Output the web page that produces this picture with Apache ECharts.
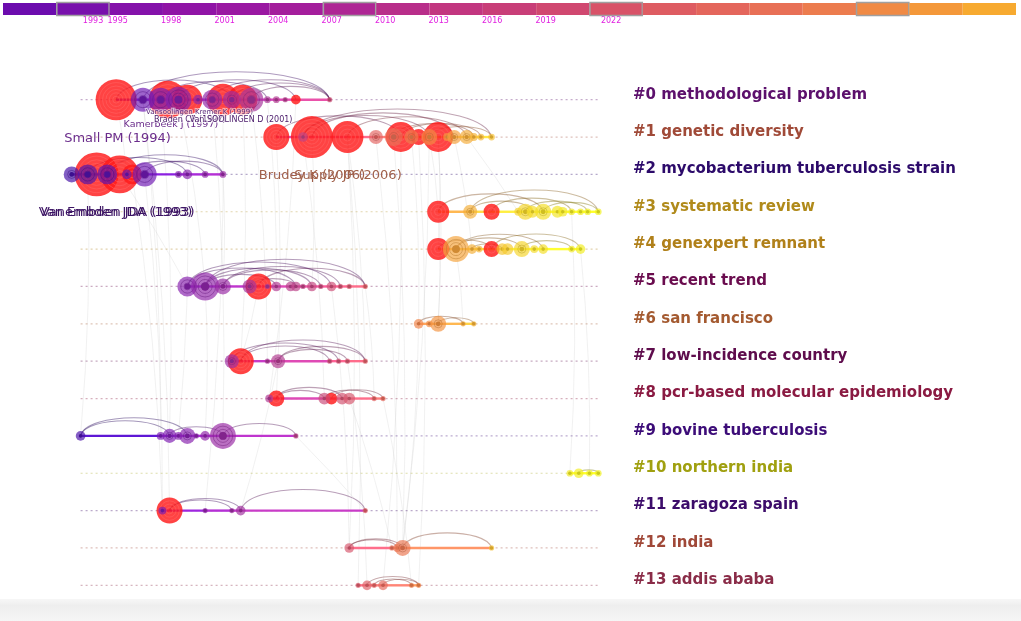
<!DOCTYPE html>
<html>
<head>
<meta charset="utf-8">
<script src="https://cdn.jsdelivr.net/npm/echarts@6/dist/echarts.min.js"></script>
<style>
html, body { margin: 0; padding: 0; background: #fff; }
#chart { width: 1021px; height: 621px; }
</style>
</head>
<body>
<div id="chart"></div>
<script>
// cluster names (timeline rows)
var clusterLabels = [
    '#0 methodological problem',
    '#1 genetic diversity',
    '#2 mycobacterium tuberculosis strain',
    '#3 systematic review',
    '#4 genexpert remnant',
    '#5 recent trend',
    '#6 san francisco',
    '#7 low-incidence country',
    '#8 pcr-based molecular epidemiology',
    '#9 bovine tuberculosis',
    '#10 northern india',
    '#11 zaragoza spain',
    '#12 india',
    '#13 addis ababa'
];
var labelColors = ['#5c106c', '#a04a38', '#2c0a6a', '#b08a1a', '#b0801a', '#6a0c4e', '#a45a30',
    '#5e0c4c', '#8a1a42', '#3c0c78', '#a0a010', '#3c0c6a', '#a04838', '#8a2c48'];

// nodes per cluster: [year, citation count, burst (1 = red)]
var nodes0 = [[1995.5, 120, 1], [1997.0, 39, 0], [1998.0, 39, 0], [1998.4, 102, 1], [1999.0, 46, 0], [1999.5, 62, 1],
    [2000.1, 5, 0], [2000.9, 26, 0], [2001.5, 71, 1], [2002.0, 21, 0], [2002.6, 62, 1], [2003.1, 39, 0],
    [2004.0, 2, 0], [2004.5, 2, 0], [2005.0, 1, 0], [2005.6, 5, 1], [2007.5, 1, 0]];
var nodes1 = [[2004.5, 46, 1], [2006.0, 5, 0], [2006.5, 126, 1], [2008.5, 71, 1], [2010.1, 12, 0], [2011.1, 21, 0],
    [2011.5, 62, 1], [2012.1, 12, 0], [2012.5, 16, 1], [2013.1, 16, 0], [2013.6, 62, 1], [2014.1, 3, 0],
    [2014.5, 12, 0], [2015.2, 12, 0], [2015.6, 3, 0], [2016.0, 2, 0], [2016.6, 2, 0]];
var nodes2 = [[1993.0, 16, 0], [1993.9, 26, 0], [1994.4, 138, 1], [1995.0, 26, 0], [1995.7, 102, 1], [1996.1, 5, 0],
    [1996.4, 26, 1], [1997.1, 39, 0], [1999.0, 2, 0], [1999.5, 5, 0], [2000.5, 2, 0], [2001.5, 2, 0]];
var nodes3 = [[2013.6, 32, 1], [2015.4, 12, 0], [2016.6, 16, 1], [2018.1, 3, 0], [2018.5, 16, 0], [2018.9, 8, 0],
    [2019.5, 16, 0], [2020.3, 8, 0], [2020.6, 5, 0], [2021.1, 2, 0], [2021.6, 2, 0], [2022.0, 2, 0], [2022.6, 2, 0]];
var nodes4 = [[2013.6, 32, 1], [2014.6, 46, 0], [2015.5, 5, 0], [2015.9, 2, 0], [2016.6, 16, 1], [2017.2, 8, 0],
    [2017.5, 8, 0], [2018.3, 16, 0], [2019.0, 3, 0], [2019.5, 5, 0], [2021.1, 2, 0], [2021.6, 5, 0]];
var nodes5 = [[1999.5, 26, 0], [2000.5, 54, 0], [2001.5, 16, 0], [2003.0, 12, 0], [2003.5, 46, 1], [2004.0, 1, 0],
    [2004.5, 5, 0], [2005.3, 5, 0], [2005.6, 5, 0], [2006.0, 1, 0], [2006.5, 5, 0], [2007.0, 1, 0],
    [2007.6, 5, 0], [2008.1, 1, 0], [2008.6, 1, 0], [2009.5, 1, 0]];
var nodes6 = [[2012.5, 5, 0], [2013.1, 2, 0], [2013.6, 16, 0], [2015.0, 1, 0], [2015.6, 1, 0]];
var nodes7 = [[2002.0, 12, 0], [2002.5, 46, 1], [2004.0, 1, 0], [2004.6, 12, 0], [2007.5, 1, 0], [2008.0, 1, 0],
    [2008.5, 1, 0], [2009.5, 1, 0]];
var nodes8 = [[2004.1, 3, 0], [2004.5, 16, 1], [2007.2, 8, 0], [2007.6, 8, 1], [2008.2, 8, 0], [2008.6, 8, 0],
    [2010.0, 1, 0], [2010.5, 1, 0]];
var nodes9 = [[1993.5, 5, 0], [1998.0, 3, 0], [1998.5, 12, 0], [1999.0, 3, 0], [1999.5, 16, 0], [2000.0, 1, 0],
    [2000.5, 5, 0], [2001.5, 46, 0], [2005.6, 1, 0]];
var nodes10 = [[2021.0, 2, 0], [2021.5, 5, 0], [2022.1, 2, 0], [2022.6, 2, 0]];
var nodes11 = [[1998.1, 3, 0], [1998.5, 46, 1], [2000.5, 1, 0], [2002.0, 1, 0], [2002.5, 5, 0], [2009.5, 1, 0]];
var nodes12 = [[2008.6, 5, 0], [2011.0, 1, 0], [2011.3, 3, 0], [2011.6, 16, 0], [2016.6, 1, 0]];
var nodes13 = [[2009.1, 1, 0], [2009.6, 5, 0], [2010.0, 1, 0], [2010.5, 5, 0], [2012.1, 1, 0], [2012.5, 1, 0]];
var clusterNodes = [nodes0, nodes1, nodes2, nodes3, nodes4, nodes5, nodes6, nodes7, nodes8, nodes9,
    nodes10, nodes11, nodes12, nodes13];

// co-citation arcs inside each cluster: [from node, to node]
var clusterArcs = [
    [[1, 16], [4, 15], [7, 16], [2, 12], [9, 16], [11, 16], [0, 9]],
    [[1, 9], [2, 12], [3, 13], [5, 14], [6, 15], [9, 16], [0, 6], [1, 16]],
    [[3, 11], [1, 9], [5, 10], [7, 11]],
    [[1, 12], [0, 6], [2, 9], [4, 11], [6, 12], [1, 5]],
    [[1, 9], [0, 4], [1, 7], [4, 11], [7, 10], [2, 5]],
    [[1, 15], [0, 12], [1, 10], [2, 13], [4, 15], [3, 8], [1, 6], [0, 8], [2, 11]],
    [[2, 4], [0, 3]],
    [[1, 7], [1, 4], [3, 7], [3, 6], [0, 5]],
    [[1, 2], [1, 4], [3, 7], [2, 6]],
    [[0, 4], [0, 2], [7, 8], [2, 7]],
    [[1, 3]],
    [[1, 3], [1, 4], [4, 5]],
    [[0, 2], [3, 4], [0, 3]],
    [[1, 5], [3, 5], [2, 4]]
];

// links between clusters: [cluster A, year A, cluster B, year B]
var crossLinks = [
    [0, 1997.0, 11, 1998.5], [2, 1997.1, 11, 1998.1], [0, 1998.0, 9, 1998.5], [2, 1995.7, 5, 1999.5],
    [0, 1999.0, 5, 2000.5], [0, 2000.9, 9, 2001.5], [0, 2002.6, 7, 2002.5], [5, 2003.5, 7, 2002.5],
    [0, 2001.5, 11, 2000.5], [5, 2000.5, 9, 2000.5], [1, 2004.5, 8, 2004.5], [1, 2006.5, 5, 2006.5],
    [1, 2006.0, 8, 2007.2], [1, 2008.5, 12, 2008.6], [1, 2008.5, 13, 2009.1], [1, 2010.1, 12, 2011.3],
    [1, 2011.5, 13, 2010.5], [1, 2012.1, 6, 2012.5], [1, 2013.6, 6, 2013.6], [1, 2013.1, 3, 2013.6],
    [1, 2013.6, 4, 2013.6], [3, 2013.6, 6, 2013.6], [4, 2014.6, 6, 2015.0], [1, 2011.1, 12, 2011.6],
    [5, 2007.6, 12, 2008.6], [7, 2008.5, 13, 2009.6], [8, 2008.6, 12, 2011.0], [1, 2008.5, 7, 2009.5],
    [5, 2009.5, 8, 2010.0], [0, 2005.6, 8, 2004.1], [3, 2021.1, 10, 2021.0], [4, 2021.6, 10, 2022.1],
    [2, 1993.9, 9, 1993.5], [0, 1995.5, 2, 1996.1], [2, 1999.5, 9, 1999.0], [0, 2004.0, 5, 2004.5],
    [1, 2015.2, 3, 2018.1], [1, 2014.5, 4, 2015.5], [8, 2010.5, 13, 2012.1], [6, 2012.5, 12, 2011.6],
    [7, 2004.6, 11, 2002.5], [9, 2005.6, 11, 2009.5], [0, 2003.1, 7, 2004.0], [2, 2001.5, 5, 2001.5],
    [1, 2012.5, 13, 2012.5], [0, 1997.0, 9, 1998.0], [2, 1996.4, 11, 1998.1], [1, 2013.1, 12, 2011.6]
];

// labelled references: [text, cluster, year]
var refLabels = [
    ['Kamerbeek J (1997)', 0, 1997.0],
    ['Vansoolingen Kremer K (1999)', 0, 1999.0],
    ['Braden CR (1997)', 0, 1997.0],
    ['Van SOOLINGEN D (2001)', 0, 2001.0],
    ['Small PM (1994)', 2, 1994.0],
    ['Vanembden JDA (1993)', 2, 1993.0],
    ['Van Embden JDA (1993)', 2, 1993.0],
    ['Brudey K (2006)', 1, 2006.0],
    ['Supply JP (2006)', 1, 2006.0]
];

// time span of the dotted guide lines
var timeSpan = [1993.5, 2022.6];

// colour bar on top
var barColors = ['#6c0cae', '#7810ac', '#8412aa', '#9014a6', '#9a18a2', '#a41e9c', '#ae2694', '#b82e8a',
    '#c23680', '#c83e78', '#d04870', '#d85268', '#de5c62', '#e4665c', '#e87056', '#ec7c4e', '#f08a44',
    '#f4983a', '#f7aa30'];
var barYears = [1993, 1995, 1998, 2001, 2004, 2007, 2010, 2013, 2016, 2019, 2022];

// ---- look ----
var yearStops = [[1992, '#3c10a0'], [1995, '#5a14b4'], [1998, '#7a1cb4'], [2001, '#9528a8'], [2004, '#ad3896'],
    [2007, '#c84a7c'], [2010, '#e46464'], [2013, '#f28a44'], [2016, '#f6b836'], [2019, '#f4dc2a'], [2022, '#f0f020']];
var refLabelLook = [
    {dx: 28, dy: 25, size: 9.5, color: '#6a2c8a'},
    {dx: 21, dy: 13, size: 7, color: '#5a2a7a'},
    {dx: 47, dy: 20, size: 8, color: '#4a1a6a'},
    {dx: 27, dy: 20, size: 8, color: '#4a1a6a'},
    {dx: 28, dy: -36, size: 13, color: '#6b2d8c'},
    {dx: 45, dy: 38, size: 13, color: '#3c1464'},
    {dx: 45, dy: 38, size: 13, color: '#3c1464'},
    {dx: 9, dy: 39, size: 13, color: '#a0604a'},
    {dx: 45, dy: 39, size: 13, color: '#a0604a'}
];

function hexRgb(h) {
    return [parseInt(h.substr(1, 2), 16), parseInt(h.substr(3, 2), 16), parseInt(h.substr(5, 2), 16)];
}
function rgbStr(c) {
    return 'rgb(' + Math.round(Math.min(255, c[0])) + ',' + Math.round(Math.min(255, c[1])) + ',' +
        Math.round(Math.min(255, c[2])) + ')';
}
function colorRgb(year) {
    if (year <= yearStops[0][0]) return hexRgb(yearStops[0][1]);
    for (var i = 1; i < yearStops.length; i++) {
        if (year <= yearStops[i][0]) {
            var a = hexRgb(yearStops[i - 1][1]), b = hexRgb(yearStops[i][1]);
            var t = (year - yearStops[i - 1][0]) / (yearStops[i][0] - yearStops[i - 1][0]);
            return [a[0] + (b[0] - a[0]) * t, a[1] + (b[1] - a[1]) * t, a[2] + (b[2] - a[2]) * t];
        }
    }
    return hexRgb(yearStops[yearStops.length - 1][1]);
}
// factor < 1 darkens, > 1 brightens
function colorAt(year, factor) {
    var c = colorRgb(year);
    var f = factor || 1;
    return rgbStr([c[0] * f, c[1] * f, c[2] * f]);
}
function radiusOf(count) {
    return 0.8 + 1.8 * Math.sqrt(count);
}

// build series data from the arrays
var nodeData = [], segData = [], arcData = [], baseData = [];
clusterNodes.forEach(function (list, row) {
    baseData.push([timeSpan[0], timeSpan[1], row]);
    list.forEach(function (n) { if (n[2]) nodeData.push([n[0], row, n[1], 1]); });
    list.forEach(function (n) { if (!n[2]) nodeData.push([n[0], row, n[1], 0]); });
    for (var i = 0; i + 1 < list.length; i++) segData.push([list[i][0], list[i + 1][0], row]);
    clusterArcs[row].forEach(function (a) { arcData.push([list[a[0]][0], list[a[1]][0], row]); });
});
var linkData = crossLinks.map(function (l) { return [l[1], l[0], l[3], l[2]]; });
var refData = refLabels.map(function (r, i) { return [r[2], r[1], i]; });
var barData = barColors.map(function (c, i) { return [i, i + 1]; });

var labelRich = {};
labelColors.forEach(function (c, i) {
    labelRich['c' + i] = {
        color: c, fontSize: 15, fontWeight: 'bold', fontFamily: 'DejaVu Sans', padding: [0, 0, 10, 0]
    };
});

var chart = echarts.init(document.getElementById('chart'), null, {renderer: 'canvas'});

var option = {
    backgroundColor: '#ffffff',
    animation: false,
    grid: [
        {left: 0, width: 625, top: 81, height: 523},
        {left: 3, width: 1013, top: 3, height: 12}
    ],
    xAxis: [
        {gridIndex: 0, type: 'value', min: 1988.97, max: 2024.10, show: false},
        {gridIndex: 1, type: 'value', min: 0, max: 19, show: false},
        {
            gridIndex: 1, type: 'value', min: 1988.567, max: 2045.38, position: 'bottom',
            axisLine: {show: false}, axisTick: {show: false}, splitLine: {show: false},
            axisLabel: {
                customValues: barYears, margin: 2, fontSize: 8, color: '#e01ee0',
                fontFamily: 'DejaVu Sans',
                formatter: function (v) {
                    if (v === 1993) return '{a|1993}';
                    if (v === 2022) return '{b|2022}';
                    return String(v);
                },
                rich: {
                    a: {fontSize: 8, color: '#e01ee0', padding: [0, 0, 0, 22]},
                    b: {fontSize: 8, color: '#e01ee0', padding: [0, 0, 0, 24]}
                }
            }
        }
    ],
    yAxis: [
        {
            gridIndex: 0, type: 'category', data: clusterLabels, inverse: true, position: 'right',
            axisLine: {show: false}, axisTick: {show: false}, splitLine: {show: false},
            axisLabel: {
                margin: 8,
                formatter: function (v, i) { return '{c' + i + '|' + v + '}'; },
                rich: labelRich
            }
        },
        {gridIndex: 1, type: 'value', min: 0, max: 1, show: false}
    ],
    series: [
        {
            // faint links between clusters
            type: 'custom', xAxisIndex: 0, yAxisIndex: 0, z: 1, silent: true,
            data: linkData,
            encode: {x: [0, 2], y: [1, 3]},
            renderItem: function (params, api) {
                var a = api.coord([api.value(0), api.value(1)]);
                var b = api.coord([api.value(2), api.value(3)]);
                var bow = (b[1] - a[1]) * 0.03;
                return {
                    type: 'bezierCurve',
                    shape: {x1: a[0], y1: a[1], x2: b[0], y2: b[1],
                        cpx1: (a[0] + b[0]) / 2 + bow, cpy1: (a[1] + b[1]) / 2},
                    style: {fill: 'none', stroke: '#cccccc', lineWidth: 0.8, opacity: 0.35}
                };
            }
        },
        {
            // dotted guide line of each cluster
            type: 'custom', xAxisIndex: 0, yAxisIndex: 0, z: 2, silent: true,
            data: baseData,
            encode: {x: [0, 1], y: 2},
            renderItem: function (params, api) {
                var row = api.value(2);
                var a = api.coord([api.value(0), row]);
                var b = api.coord([api.value(1), row]);
                return {
                    type: 'line',
                    shape: {x1: a[0], y1: a[1], x2: b[0], y2: b[1]},
                    style: {stroke: labelColors[row], lineWidth: 1.2, lineDash: [2, 3], opacity: 0.35}
                };
            }
        },
        {
            // solid time line of each cluster
            type: 'custom', xAxisIndex: 0, yAxisIndex: 0, z: 3, silent: true,
            data: segData,
            encode: {x: [0, 1], y: 2},
            renderItem: function (params, api) {
                var row = api.value(2);
                var a = api.coord([api.value(0), row]);
                var b = api.coord([api.value(1), row]);
                return {
                    type: 'line',
                    shape: {x1: a[0], y1: a[1], x2: b[0], y2: b[1]},
                    style: {stroke: colorAt(api.value(0), 1.25), lineWidth: 2.4}
                };
            }
        },
        {
            // co-citation arcs
            type: 'custom', xAxisIndex: 0, yAxisIndex: 0, z: 4, silent: true,
            data: arcData,
            encode: {x: [0, 1], y: 2},
            renderItem: function (params, api) {
                var row = api.value(2);
                var a = api.coord([api.value(0), row]);
                var b = api.coord([api.value(1), row]);
                var span = Math.abs(b[0] - a[0]);
                var k = Math.min(span * 0.17, 28) / 0.75;
                return {
                    type: 'bezierCurve',
                    shape: {x1: a[0], y1: a[1], x2: b[0], y2: b[1],
                        cpx1: a[0] + span * 0.05, cpy1: a[1] - k,
                        cpx2: b[0] - span * 0.05, cpy2: b[1] - k},
                    style: {fill: 'none', stroke: colorAt(api.value(0), 0.55), lineWidth: 1.1, opacity: 0.42}
                };
            }
        },
        {
            // cited references as tree-ring nodes
            type: 'custom', xAxisIndex: 0, yAxisIndex: 0, z: 5, silent: true,
            data: nodeData,
            encode: {x: 0, y: 1},
            renderItem: function (params, api) {
                var yr = api.value(0), burst = api.value(3);
                var p = api.coord([yr, api.value(1)]);
                var r = radiusOf(api.value(2));
                var col = colorAt(yr);
                var kids = [{
                    type: 'circle', shape: {cx: p[0], cy: p[1], r: r},
                    style: {fill: burst ? '#ff1a1a' : col, opacity: burst ? 0.82 : 0.68}
                }];
                var n = Math.floor(r / 3.2);
                for (var k = 1; k < n; k++) {
                    kids.push({
                        type: 'circle', shape: {cx: p[0], cy: p[1], r: r * k / n},
                        style: {fill: 'none', stroke: burst ? '#ff6a6a' : colorAt(yr, 0.75),
                            lineWidth: 0.8, opacity: 0.6}
                    });
                }
                if (!burst) {
                    kids.push({
                        type: 'circle',
                        shape: {cx: p[0], cy: p[1], r: Math.min(Math.max(r * 0.3, 1.8), 4.5)},
                        style: {fill: colorAt(yr, 0.85)}
                    });
                }
                return {type: 'group', children: kids};
            }
        },
        {
            // reference labels
            type: 'custom', xAxisIndex: 0, yAxisIndex: 0, z: 6, silent: true,
            data: refData,
            encode: {x: 0, y: 1},
            renderItem: function (params, api) {
                var look = refLabelLook[api.value(2)];
                var p = api.coord([api.value(0), api.value(1)]);
                return {
                    type: 'text',
                    x: p[0] + look.dx, y: p[1] + look.dy,
                    style: {
                        text: refLabels[api.value(2)][0], fill: look.color,
                        font: look.size + 'px "DejaVu Sans"', align: 'center', verticalAlign: 'middle',
                        stroke: 'rgba(255,255,255,0.55)', lineWidth: look.size < 10 ? 2 : 0
                    }
                };
            }
        },
        {
            // colour bar
            type: 'custom', xAxisIndex: 1, yAxisIndex: 1, z: 5, silent: true,
            data: barData,
            encode: {x: [0, 1]},
            renderItem: function (params, api) {
                var i = params.dataIndex;
                var a = api.coord([api.value(0), 1]);
                var b = api.coord([api.value(1), 0]);
                var kids = [{
                    type: 'rect', shape: {x: a[0], y: a[1], width: b[0] - a[0], height: b[1] - a[1]},
                    style: {fill: barColors[i]}
                }];
                if (i % 5 === 1) {
                    kids.push({
                        type: 'rect', shape: {x: a[0] + 0.5, y: a[1] - 0.5, width: b[0] - a[0] - 1, height: b[1] - a[1] + 1},
                        style: {fill: 'none', stroke: '#a0a0a0', lineWidth: 1.5}
                    });
                }
                return {type: 'group', children: kids};
            }
        }
    ],
    graphic: [
        {
            type: 'rect', left: 0, top: 599, z: 0, silent: true,
            shape: {width: 1021, height: 22},
            style: {
                fill: new echarts.graphic.LinearGradient(0, 0, 0, 1, [
                    {offset: 0, color: '#f7f7f7'},
                    {offset: 0.3, color: '#eeeeee'},
                    {offset: 1, color: '#f6f6f6'}
                ])
            }
        }
    ]
};

chart.setOption(option);
</script>
</body>
</html>
